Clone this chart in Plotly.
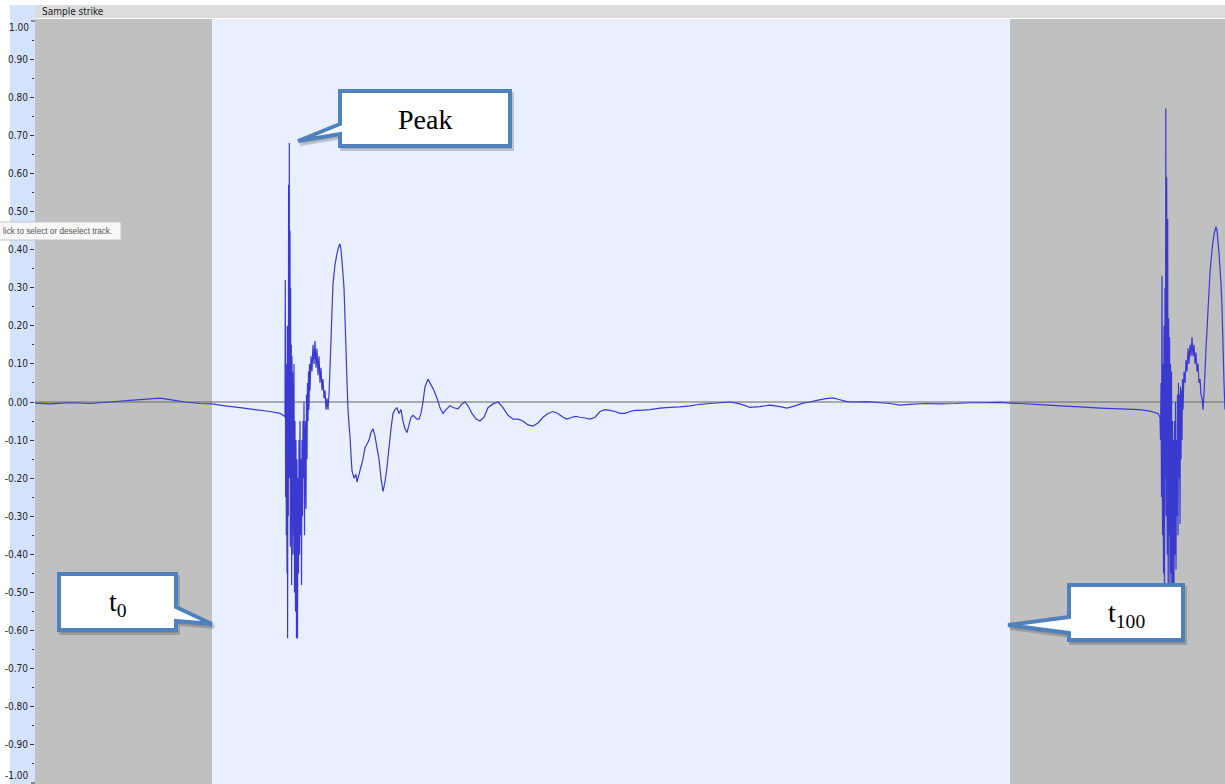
import plotly.graph_objects as go

# ---- waveform samples (time in ms from the left edge of the view, amplitude -1..1) ----
lead_t = [0, 15, 35, 55, 75, 95, 115, 125, 135, 150, 165, 177, 190, 205, 220, 235, 245, 249]
lead_v = [-0.003, -0.005, -0.002, -0.004, 0.0, 0.004, 0.008, 0.010, 0.006, 0.0, -0.004,
          -0.005, -0.010, -0.015, -0.020, -0.025, -0.030, -0.036]

strike1_t = [250.0, 250.3, 250.6, 251.0, 251.3, 251.6, 252.0, 252.3, 252.6, 253.0, 253.3, 253.6,
             254.0, 254.3, 254.6, 255.0, 255.3, 255.6, 256.0, 256.3, 256.6, 257.0, 257.3, 257.6,
             258.0, 258.3, 258.6, 259.0, 259.5, 260.0, 260.5, 261.0, 261.5, 262.0, 262.5, 263.0,
             263.5, 264.0, 264.5, 265.0, 265.5, 266.0, 266.5, 267.0, 267.5, 268.0, 268.5, 269.0,
             269.5, 270.0, 270.5, 271.0, 271.5, 272.0, 272.5, 273.0, 273.5, 274.0, 274.5, 275.0,
             276, 277, 278, 279, 280, 281, 282, 283, 284, 285, 286, 287, 288, 289, 290, 291, 292,
             293, 294, 295, 296, 297, 298, 300, 302, 304, 305, 306, 307, 309, 310, 311, 312, 313,
             314, 315, 316, 317, 319, 321, 322, 324, 326, 328, 330, 332, 334, 336, 338, 340, 342,
             344, 346, 348, 350, 352, 354, 356, 358, 360, 362, 364, 366, 368, 370, 372, 374, 376,
             378, 380, 382, 384, 386, 388, 390, 393, 396, 399, 402, 405, 408, 411, 415, 419, 423,
             427, 430, 433, 437, 441, 445]
strike1_v = [-0.04, 0.32, -0.25, 0.10, -0.35, 0.05, -0.45, 0.20, -0.62, 0.15, -0.30, 0.57,
             -0.20, 0.68, -0.10, 0.45, -0.38, 0.30, -0.30, 0.15, -0.48, 0.12, -0.25, 0.08,
             -0.40, 0.05, -0.35, 0.10, -0.50, -0.05, -0.55, -0.10, -0.62, -0.15, -0.62, -0.20,
             -0.45, -0.10, -0.40, -0.05, -0.35, -0.15, -0.48, -0.10, -0.30, -0.05, -0.20, 0.00,
             -0.35, -0.10, -0.05, -0.28, 0.02, -0.15, 0.05, -0.05, 0.08, -0.02, 0.10, 0.03,
             0.12, 0.08, 0.15, 0.10, 0.16, 0.09, 0.14, 0.07, 0.12, 0.05, 0.09, 0.03, 0.06, 0.01,
             0.03, -0.02, 0.01, -0.02, 0.02, 0.09, 0.16, 0.24, 0.31, 0.36, 0.39, 0.41, 0.415,
             0.40, 0.37, 0.30, 0.22, 0.14, 0.05, -0.02, -0.06, -0.09, -0.14, -0.18, -0.20, -0.19,
             -0.21, -0.19, -0.17, -0.15, -0.12, -0.11, -0.10, -0.08, -0.07, -0.09, -0.12, -0.15,
             -0.20, -0.235, -0.21, -0.17, -0.12, -0.07, -0.03, -0.02, -0.015, -0.03, -0.02,
             -0.05, -0.07, -0.08, -0.06, -0.04, -0.035, -0.04, -0.045, -0.045, -0.03, 0.0, 0.04,
             0.06, 0.045, 0.03, 0.01, -0.015, -0.03, -0.02, -0.01, -0.015, -0.018, -0.005, 0.0,
             -0.01, -0.03, -0.045, -0.05]

decay_t = [449, 453, 458, 463, 468, 473, 478, 483, 488, 493, 498, 503, 508, 513, 518, 523, 528,
           532, 537, 541, 545, 550, 555, 560, 565, 570, 575, 580, 585, 590, 595, 600, 605, 615,
           625, 635, 645, 655, 665, 675, 685, 695, 705, 715, 725, 735, 745, 752, 760, 768, 775,
           783, 791, 798, 805, 812, 820, 832, 845, 855, 865, 875, 890, 905, 920, 935, 950, 965,
           975]
decay_v = [-0.04, -0.015, -0.005, 0.0, -0.015, -0.035, -0.045, -0.045, -0.05, -0.06, -0.063,
           -0.055, -0.04, -0.03, -0.025, -0.03, -0.04, -0.045, -0.04, -0.038, -0.04, -0.042,
           -0.045, -0.04, -0.025, -0.02, -0.022, -0.025, -0.03, -0.03, -0.025, -0.022, -0.022,
           -0.02, -0.016, -0.014, -0.013, -0.01, -0.006, -0.004, -0.002, 0.0, -0.005, -0.014,
           -0.012, -0.008, -0.012, -0.016, -0.01, -0.003, 0.0, 0.005, 0.009, 0.011, 0.006, 0.001,
           0.0, 0.001, -0.002, -0.004, -0.008, -0.006, -0.004, -0.005, -0.004, -0.002, -0.002,
           -0.001, -0.003]

tail_t = [985, 1005, 1025, 1045, 1065, 1085, 1105, 1115, 1123, 1124]
tail_v = [-0.004, -0.007, -0.010, -0.013, -0.016, -0.018, -0.020, -0.024, -0.030, -0.035]

strike2_t = [1125, 1125.5, 1126, 1126.5, 1127, 1127.5, 1128, 1128.5, 1129, 1129.5, 1130, 1130.5,
             1130.8, 1131.2, 1131.7, 1132.2, 1132.7, 1133.2, 1133.7, 1134.2, 1134.6, 1135.0,
             1135.5, 1136.0, 1136.5, 1137.0, 1137.5, 1138.0, 1138.5, 1139.0, 1139.5, 1140.0,
             1140.5, 1141.0, 1141.5, 1142.0, 1142.5, 1143.0, 1143.5, 1144.0, 1144.5, 1145.0,
             1145.5, 1146.0, 1146.5, 1147.0, 1147.5, 1148, 1149, 1150, 1151, 1152, 1153, 1154,
             1155, 1156, 1157, 1158, 1159, 1160, 1161, 1162, 1163, 1164, 1165, 1166, 1167, 1168,
             1169, 1170, 1171, 1172, 1173, 1174, 1175, 1177, 1179, 1181, 1182, 1184, 1186, 1187,
             1188, 1189, 1190]
strike2_v = [-0.04, -0.10, 0.05, -0.25, 0.33, -0.35, 0.10, -0.45, 0.20, -0.55, 0.30, -0.20,
             0.77, -0.30, 0.59, -0.40, 0.48, -0.58, 0.22, -0.35, 0.17, -0.50, 0.10, -0.45, 0.08,
             -0.60, -0.05, -0.55, -0.10, -0.48, -0.05, -0.40, 0.00, -0.44, -0.10, -0.30, 0.02,
             -0.35, 0.05, -0.20, 0.02, -0.32, 0.04, -0.15, 0.03, -0.10, 0.06, -0.02, 0.08, 0.05,
             0.11, 0.08, 0.14, 0.10, 0.15, 0.12, 0.17, 0.12, 0.15, 0.10, 0.13, 0.08, 0.10, 0.05,
             0.06, 0.02, 0.01, -0.02, 0.02, 0.08, 0.14, 0.19, 0.24, 0.29, 0.34, 0.40, 0.44, 0.46,
             0.45, 0.39, 0.31, 0.25, 0.15, 0.05, -0.02]

# selected region (t0 .. t100) and visible window
selection_start = 177
selection_end = 975
view_t = [0, 1190]
amp_range = [-1.0026, 1.0052]

major_ticks = [round(-0.9 + 0.1 * i, 2) for i in range(19)]
major_labels = [f"{v:.2f}" for v in major_ticks]
end_labels = ["1.00", "-1.00"]

time = lead_t + strike1_t + decay_t + tail_t + strike2_t
amplitude = lead_v + strike1_v + decay_v + tail_v + strike2_v

# ---- page geometry ----
W, H = 1225, 784
ML, MT = 35, 19
PW, PH = W - ML, H - MT


def px(x):
    return (x - ML) / PW


def py(y):
    return (H - y) / PH


def path(points):
    pts = [f"{px(x):.5f},{py(y):.5f}" for x, y in points]
    return "M " + " L ".join(pts) + " Z"


BLUE = "#4f81bd"
WAVE = "#3a3ad0"

fig = go.Figure()
fig.add_trace(go.Scatter(
    x=time, y=amplitude, mode="lines",
    line=dict(color=WAVE, width=1.2, simplify=False),
    hoverinfo="skip", showlegend=False,
))

shapes = []
# ruler on the left and track title bar
shapes.append(dict(type="rect", xref="paper", yref="paper", x0=px(10), x1=px(35),
                   y0=0, y1=py(5), fillcolor="#d5e2fb", line_width=0, layer="below"))
shapes.append(dict(type="rect", xref="paper", yref="paper", x0=px(35), x1=px(1225),
                   y0=py(18), y1=py(5), fillcolor="#dcdcdc", line_width=0, layer="below"))
# selected region
shapes.append(dict(type="rect", xref="x", yref="paper", x0=selection_start, x1=selection_end,
                   y0=0, y1=1, fillcolor="#e8f0fd", line_width=0, layer="below"))
# zero line
shapes.append(dict(type="line", xref="paper", yref="y", x0=0, x1=1, y0=0, y1=0,
                   line=dict(color="#666666", width=1), layer="below"))
# ticks at the ends of the ruler
for v in (1.0, -1.0):
    shapes.append(dict(type="line", xref="paper", yref="y", x0=px(31), x1=px(35), y0=v, y1=v,
                       line=dict(color="#333333", width=1), layer="below"))

# hint tooltip
shapes.append(dict(type="rect", xref="paper", yref="paper", x0=px(-2), x1=px(121),
                   y0=py(240), y1=py(222), fillcolor="#f7f7f7",
                   line=dict(color="#c4c4c4", width=1), layer="above"))

# callouts: box with pointer
callouts = [
    [(340, 91), (510, 91), (510, 146), (340, 146), (340, 134), (298, 141), (340, 124)],
    [(59, 574), (176, 574), (176, 607), (212, 624), (176, 621), (176, 630), (59, 630)],
    [(1069, 585), (1183, 585), (1183, 640), (1069, 640), (1069, 633), (1008, 625), (1069, 617)],
]
for pts in callouts:
    shadow = [(x + 2, y + 3) for x, y in pts]
    shapes.append(dict(type="path", xref="paper", yref="paper", path=path(shadow),
                       fillcolor="rgba(0,0,0,0.12)", line=dict(color="rgba(0,0,0,0.18)", width=4),
                       layer="above"))
    shapes.append(dict(type="path", xref="paper", yref="paper", path=path(pts),
                       fillcolor="white", line=dict(color=BLUE, width=4), layer="above"))

serif = "Liberation Serif, Times New Roman, serif"
narrow = "Liberation Sans Narrow, Arial Narrow, DejaVu Sans Condensed, sans-serif"


def note(text, x, y, size, family, color="black", xanchor="center"):
    return dict(text=text, x=px(x), y=py(y), xref="paper", yref="paper", showarrow=False,
                xanchor=xanchor, yanchor="middle",
                font=dict(family=family, size=size, color=color))


annotations = [
    note("Peak", 425, 120, 28, serif),
    note("t<sub>0</sub>", 118, 603, 28, serif),
    note("t<sub>100</sub>", 1126, 614, 28, serif),
    note("Sample strike", 40, 11.5, 10, narrow, "#222222", "left"),
    note("lick to select or deselect track.", 1, 231, 8.2,
         "Liberation Sans, Arial, sans-serif", "#555555", "left"),
    note(end_labels[0], 31, 28, 10, narrow, "#222222", "right"),
    note(end_labels[1], 31, 775, 10, narrow, "#222222", "right"),
]

fig.update_layout(
    width=W, height=H,
    margin=dict(l=ML, r=0, t=MT, b=0, pad=0),
    paper_bgcolor="white",
    plot_bgcolor="#c0c0c0",
    shapes=shapes,
    annotations=annotations,
    showlegend=False,
    xaxis=dict(range=view_t, visible=False, fixedrange=True),
    yaxis=dict(
        range=amp_range, tickmode="array", tickvals=major_ticks, ticktext=major_labels,
        ticks="outside", ticklen=4, tickwidth=1, tickcolor="#333333",
        tickfont=dict(family=narrow, size=10, color="#222222"),
        showgrid=False, zeroline=False, showline=False,
        minor=dict(tick0=0.05, dtick=0.1, ticks="outside", ticklen=2, tickcolor="#333333",
                   showgrid=False),
        fixedrange=True,
    ),
)

fig.write_html("out.html")
